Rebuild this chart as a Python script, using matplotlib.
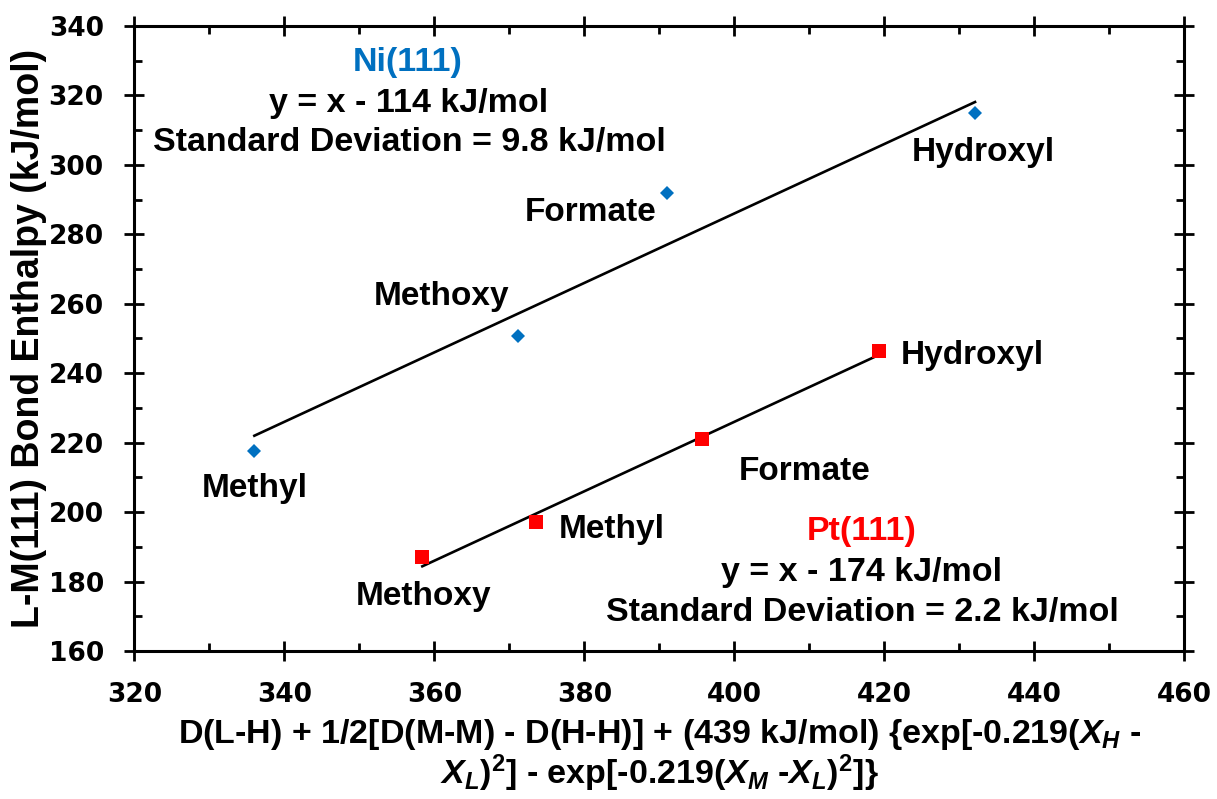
import matplotlib
matplotlib.use("Agg")
import matplotlib.pyplot as plt
from matplotlib import font_manager
from matplotlib.ticker import MultipleLocator

# Adsorbate data on the two surfaces
ni_species = ["Methyl", "Methoxy", "Formate", "Hydroxyl"]
ni_x = [336.0, 371.1, 391.0, 432.1]
ni_y = [217.7, 250.8, 291.8, 314.9]

pt_species = ["Methoxy", "Methyl", "Formate", "Hydroxyl"]
pt_x = [358.4, 373.6, 395.7, 419.3]
pt_y = [187.0, 197.1, 221.1, 246.3]

# Unit-slope fits: y = x - intercept
ni_intercept = 114
pt_intercept = 174
ni_sd = 9.8
pt_sd = 2.2

names = {f.name for f in font_manager.fontManager.ttflist}
main_font = "Liberation Sans" if "Liberation Sans" in names else "DejaVu Sans"
tick_font = "DejaVu Sans"

plt.rcParams["font.family"] = main_font
plt.rcParams["font.weight"] = "bold"
plt.rcParams["mathtext.fontset"] = "custom"
plt.rcParams["mathtext.rm"] = f"{main_font}:bold"
plt.rcParams["mathtext.it"] = f"{main_font}:italic:bold"
plt.rcParams["mathtext.bf"] = f"{main_font}:bold"

fig = plt.figure(figsize=(12.17, 7.99), dpi=100)
ax = fig.add_axes([0.1104, 0.1852, 0.8627, 0.7823])

ni_color = "#0070C0"
pt_color = "#FF0000"

# fitted lines across the data range
nx = [min(ni_x), max(ni_x)]
ax.plot(nx, [v - ni_intercept for v in nx], color="black", lw=1.9, zorder=2)
px = [min(pt_x), max(pt_x)]
ax.plot(px, [v - pt_intercept for v in px], color="black", lw=1.9, zorder=2)

ax.plot(ni_x, ni_y, ls="none", marker="D", ms=7.5, mew=0, color=ni_color, zorder=3)
ax.plot(pt_x, pt_y, ls="none", marker="s", ms=10.5, mew=0, color=pt_color, zorder=3)

ax.set_xlim(320, 460)
ax.set_ylim(160, 340)
ax.xaxis.set_major_locator(MultipleLocator(20))
ax.xaxis.set_minor_locator(MultipleLocator(10))
ax.yaxis.set_major_locator(MultipleLocator(20))
ax.yaxis.set_minor_locator(MultipleLocator(10))

for s in ax.spines.values():
    s.set_linewidth(2.2)
ax.tick_params(which="major", direction="inout", length=14, width=2.0,
               top=True, right=True, pad=15)
ax.tick_params(which="minor", direction="in", length=5.5, width=2.0,
               top=True, right=True)
ax.tick_params(axis="both", which="major", labeltop=False, labelright=False)

for lab in ax.get_yticklabels() + ax.get_xticklabels():
    lab.set_fontsize(19)
    lab.set_fontweight("bold")
    lab.set_family(tick_font)

lbl = dict(fontsize=24, fontweight="bold", ha="center", va="center")

# Ni(111) labels
ni_lab_pos = {"Methyl": (336.0, 206.9), "Methoxy": (361.0, 262.0),
              "Formate": (380.8, 286.4), "Hydroxyl": (433.2, 303.7)}
for name in ni_species:
    ax.text(*ni_lab_pos[name], name, **lbl)

# Pt(111) labels
pt_lab_pos = {"Methoxy": (358.5, 175.8), "Methyl": (383.6, 195.1),
              "Formate": (409.4, 211.8), "Hydroxyl": (431.8, 245.0)}
for name in pt_species:
    ax.text(*pt_lab_pos[name], name, **lbl)

eq = dict(fontsize=24.5, fontweight="bold", ha="center", va="center")
ax.text(356.5, 329.6, "Ni(111)", color=ni_color, **eq)
ax.text(356.5, 317.8, f"y = x - {ni_intercept} kJ/mol", **eq)
ax.text(356.7, 306.3, f"Standard Deviation = {ni_sd} kJ/mol", **eq)

ax.text(417.0, 194.3, "Pt(111)", color=pt_color, **eq)
ax.text(417.0, 182.5, f"y = x - {pt_intercept} kJ/mol", **eq)
ax.text(417.1, 171.2, f"Standard Deviation = {pt_sd} kJ/mol", **eq)

ax.set_ylabel("L-M(111) Bond Enthalpy (kJ/mol)", fontsize=27, fontweight="bold",
              labelpad=1)
ax.set_xlabel("D(L-H) + 1/2[D(M-M) - D(H-H)] + (439 kJ/mol) {exp[-0.219($X_H$ -\n"
              "$X_L$)$^2$] - exp[-0.219($X_M$ -$X_L$)$^2$]}",
              fontsize=24.5, fontweight="bold", labelpad=7,
              linespacing=1.0)

fig.savefig("out.png", dpi=100)
